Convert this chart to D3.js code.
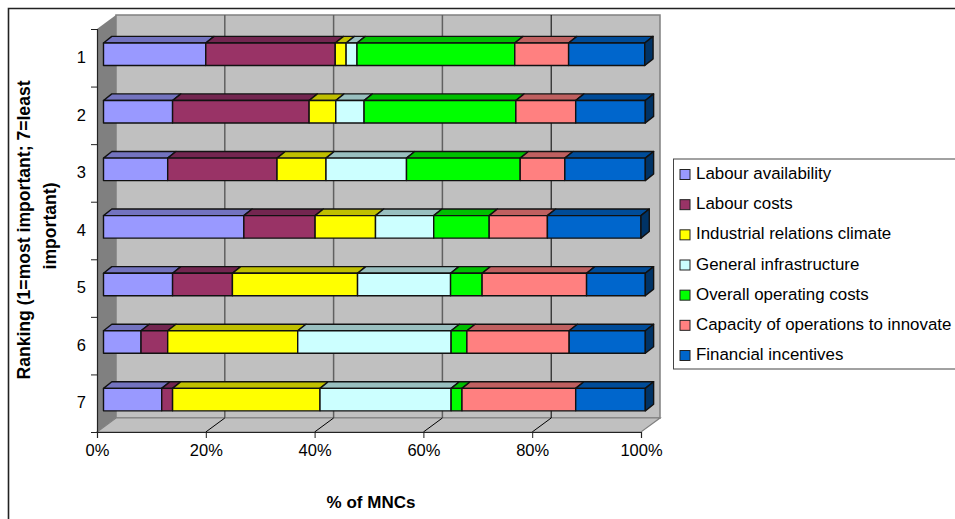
<!DOCTYPE html>
<html>
<head>
<meta charset="utf-8">
<script src="https://cdn.jsdelivr.net/npm/d3@7"></script>
<style>
  html, body { margin: 0; padding: 0; background: #fff; overflow: hidden; }
  text { font-family: "Liberation Sans", Arial, sans-serif; fill: #000; }
</style>
</head>
<body>
<div id="chart"></div>
<script>
const ranks = ["1", "2", "3", "4", "5", "6", "7"];
const seriesNames = ["Labour availability", "Labour costs", "Industrial relations climate",
    "General infrastructure", "Overall operating costs", "Capacity of operations to innovate", "Financial incentives"];

// values per rank, in % of MNCs
const labourAvailability = [18.8, 12.7, 11.8, 25.8, 12.7, 6.9, 10.7];
const labourCosts = [23.8, 25.1, 20.1, 13.1, 11.0, 4.9, 2.0];
const industrialRelations = [2.0, 4.9, 9.0, 11.1, 23.0, 23.9, 27.1];
const generalInfrastructure = [2.0, 5.2, 14.8, 10.7, 17.1, 28.2, 24.1];
const operatingCosts = [29.0, 27.9, 20.9, 10.2, 5.8, 2.9, 2.0];
const capacityToInnovate = [9.9, 11.0, 8.2, 10.7, 19.2, 18.8, 20.9];
const financialIncentives = [14.0, 12.8, 14.8, 17.2, 10.8, 14.0, 12.8];

const xTicks = [0, 20, 40, 60, 80, 100];
const frontColors = ["#9999ff", "#993366", "#ffff00", "#ccffff", "#00ff00", "#ff8080", "#0066cc"];
const topColors = ["#7373bf", "#732650", "#bfbf00", "#99bfbf", "#00bf00", "#bf6060", "#004c99"];

const allSeries = [labourAvailability, labourCosts, industrialRelations, generalInfrastructure,
    operatingCosts, capacityToInnovate, financialIncentives];
const rows = ranks.map((r, i) => {
    const row = { rank: r };
    seriesNames.forEach((n, j) => { row[n] = allSeries[j][i]; });
    return row;
});

const width = 955, height = 519;
const plot = { left: 97, right: 641, top: 29, bottom: 432 };
const wall = { dx: 19, dy: -14 };      // depth of the 3d box
const bar = { dx: 8.3, dy: -6.6, h: 22.5, shiftX: 6.5, shiftY: -3.6 };

const svg = d3.select("#chart").append("svg")
    .attr("width", width)
    .attr("height", height)
    .style("display", "block");

const x = d3.scaleLinear().domain([0, 100]).range([plot.left, plot.right]);
const yBand = d3.scaleBand().domain(ranks).range([plot.top, plot.bottom]);
const yEdges = d3.scaleLinear().domain([0, ranks.length]).range([plot.top, plot.bottom]);

// outer frame, only top and left survive in the picture
svg.append("path")
    .attr("d", `M8.5,${height}V8.5H${width}`)
    .attr("fill", "none")
    .attr("stroke", "#222")
    .attr("stroke-width", 1.6);

// back wall, side wall and floor
svg.append("rect")
    .attr("x", plot.left + wall.dx)
    .attr("y", plot.top + wall.dy)
    .attr("width", plot.right - plot.left)
    .attr("height", plot.bottom - plot.top)
    .attr("fill", "#c0c0c0")
    .attr("stroke", "#808080")
    .attr("stroke-width", 1.5);

const poly = pts => pts.map(p => p.join(",")).join(" ");

svg.append("polygon")
    .attr("points", poly([[plot.left, plot.top], [plot.left + wall.dx, plot.top + wall.dy],
        [plot.left + wall.dx, plot.bottom + wall.dy], [plot.left, plot.bottom]]))
    .attr("fill", "#808080");

svg.append("polygon")
    .attr("points", poly([[plot.left, plot.bottom], [plot.left + wall.dx, plot.bottom + wall.dy],
        [plot.right + wall.dx, plot.bottom + wall.dy], [plot.right, plot.bottom]]))
    .attr("fill", "#c0c0c0")
    .attr("stroke", "#808080")
    .attr("stroke-width", 1.2);

// gridlines on the back wall and their run across the floor
svg.append("g")
    .selectAll("line")
    .data(xTicks.slice(1, -1))
    .enter().append("line")
    .attr("x1", d => x(d) + wall.dx)
    .attr("x2", d => x(d) + wall.dx)
    .attr("y1", plot.top + wall.dy)
    .attr("y2", plot.bottom + wall.dy)
    .attr("stroke", d => d === 80 ? "#000" : "#606060")
    .attr("stroke-width", d => d === 80 ? 1 : 1.5);

svg.append("g")
    .selectAll("line")
    .data(xTicks.slice(1, -1))
    .enter().append("line")
    .attr("x1", d => x(d))
    .attr("x2", d => x(d) + wall.dx)
    .attr("y1", plot.bottom)
    .attr("y2", plot.bottom + wall.dy)
    .attr("stroke", "#000")
    .attr("stroke-width", 1);

// stacked 3d bars
const stacked = d3.stack().keys(seriesNames)(rows);
const edge = "#111";
const barG = svg.append("g")
    .attr("stroke", edge)
    .attr("stroke-width", 1.4)
    .attr("stroke-linejoin", "round");

const barTop = r => yBand(r) + yBand.bandwidth() / 2 + bar.shiftY - bar.h / 2;

stacked.forEach((layer, s) => {
    const g = barG.append("g");
    g.selectAll("polygon")
        .data(layer)
        .enter().append("polygon")
        .attr("points", d => {
            const x0 = x(d[0]) + bar.shiftX, x1 = x(d[1]) + bar.shiftX, y0 = barTop(d.data.rank);
            return poly([[x0, y0], [x0 + bar.dx, y0 + bar.dy], [x1 + bar.dx, y0 + bar.dy], [x1, y0]]);
        })
        .attr("fill", topColors[s]);
    g.selectAll("rect")
        .data(layer)
        .enter().append("rect")
        .attr("x", d => x(d[0]) + bar.shiftX)
        .attr("y", d => barTop(d.data.rank))
        .attr("width", d => x(d[1]) - x(d[0]))
        .attr("height", bar.h)
        .attr("fill", frontColors[s]);
});

// right end of each bar
barG.append("g")
    .selectAll("polygon")
    .data(stacked[stacked.length - 1])
    .enter().append("polygon")
    .attr("points", d => {
        const x1 = x(d[1]) + bar.shiftX, y0 = barTop(d.data.rank);
        return poly([[x1, y0], [x1 + bar.dx, y0 + bar.dy], [x1 + bar.dx, y0 + bar.dy + bar.h], [x1, y0 + bar.h]]);
    })
    .attr("fill", "#003366");

// axes
const xAxis = svg.append("g")
    .attr("transform", `translate(0,${plot.bottom})`)
    .call(d3.axisBottom(x).tickValues(xTicks).tickFormat(d => d + "%").tickSize(6).tickPadding(6));
xAxis.selectAll("text")
    .style("font-family", '"Liberation Sans", Arial, sans-serif')
    .style("font-size", "16.5px");

const yAxis = svg.append("g")
    .attr("transform", `translate(${plot.left},0)`)
    .call(d3.axisLeft(yEdges).tickValues(d3.range(ranks.length + 1)).tickFormat("").tickSize(6));

svg.selectAll(".domain").attr("stroke", "#222").attr("stroke-width", 1.2);
svg.selectAll(".tick line").attr("stroke", "#222");

const rankAxis = svg.append("g")
    .attr("transform", `translate(${plot.left},0)`)
    .call(d3.axisLeft(yBand).tickSize(0).tickPadding(11));
rankAxis.select(".domain").remove();
rankAxis.selectAll("text")
    .style("font-family", '"Liberation Sans", Arial, sans-serif')
    .style("font-size", "16.5px");

// axis titles
svg.append("text")
    .attr("x", 371)
    .attr("y", 508)
    .attr("text-anchor", "middle")
    .attr("font-weight", "bold")
    .attr("font-size", 17)
    .text("% of MNCs");

const yTitle = svg.append("text")
    .attr("transform", "translate(30,230) rotate(-90)")
    .attr("text-anchor", "middle")
    .attr("font-weight", "bold")
    .attr("font-size", 17.6);
yTitle.append("tspan").attr("x", 0).attr("y", 0).text("Ranking (1=most important; 7=least");
yTitle.append("tspan").attr("x", 4).attr("y", 26).text("important)");

// legend
svg.append("rect")
    .attr("x", 673.5)
    .attr("y", 159)
    .attr("width", 300)
    .attr("height", 210)
    .attr("fill", "#fff")
    .attr("stroke", "#444")
    .attr("stroke-width", 1);

const legendY = d3.scalePoint().domain(seriesNames).range([174, 355]);
const legend = svg.append("g")
    .selectAll("g")
    .data(seriesNames)
    .enter().append("g")
    .attr("transform", d => `translate(680,${legendY(d)})`);

legend.append("rect")
    .attr("y", -4.5)
    .attr("width", 10)
    .attr("height", 10)
    .attr("fill", (d, i) => frontColors[i])
    .attr("stroke", "#222")
    .attr("stroke-width", 1);

legend.append("text")
    .attr("x", 16)
    .attr("y", 5)
    .attr("font-size", 16.9)
    .text(d => d);
</script>
</body>
</html>
